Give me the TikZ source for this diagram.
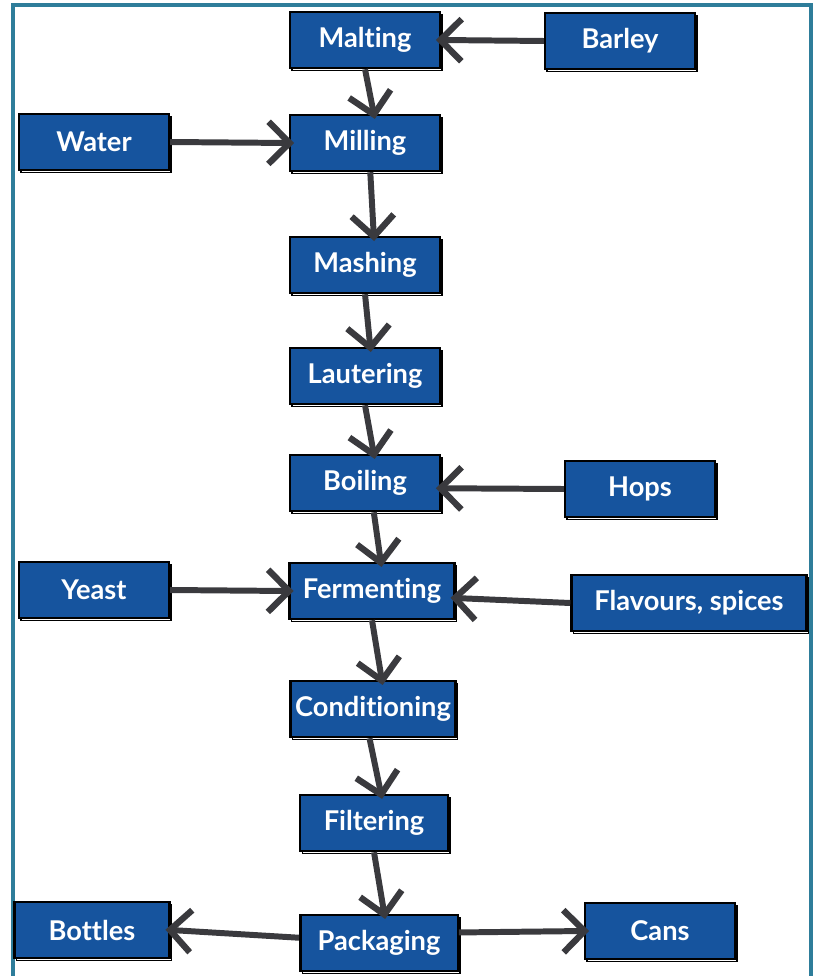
\documentclass[tikz,border=0pt]{standalone}
\usepackage{fontspec}
\setmainfont{Lato}[Ligatures=NoCommon]
\usetikzlibrary{arrows.meta}

\definecolor{stepblue}{RGB}{22,84,158}
\definecolor{framecol}{RGB}{46,125,154}
\definecolor{arrowgray}{RGB}{58,58,62}

\tikzset{
	stage/.style={draw=black, line width=1.4pt, fill=stepblue, text=white,
		font=\fontsize{15.5}{18}\selectfont\bfseries,
		minimum width=3cm, minimum height=1.12cm, inner sep=2pt,
		preaction={draw=black, line width=0.8pt, transform canvas={shift={(1.2pt,-1.4pt)}}}},
	flow/.style={draw=arrowgray, line width=3.4pt, shorten >=-3pt,
		-{Straight Barb[length=12pt, width=24pt, line width=3.6pt]}}
}

\begin{document}
\begin{tikzpicture}[x=0.02cm,y=-0.02cm]

	%Frame
	\useasboundingbox (0,0) rectangle (816,976);
	\draw[framecol, line width=1.8pt] (13,976) -- (13,5) -- (811,5) -- (811,976);

	%Main line
	\node[stage] (malting) at (365,40) {Malting};
	\node[stage] (milling) at (365,143) {Milling};
	\node[stage] (mashing) at (365,265) {Mashing};
	\node[stage] (lautering) at (365,376) {Lautering};
	\node[stage] (boiling) at (365,483) {Boiling};
	\node[stage, minimum width=3.3cm] (fermenting) at (372,591) {Fermenting};
	\node[stage, minimum width=3.3cm] (conditioning) at (373,709) {Conditioning};
	\node[stage, minimum width=2.95cm] (filtering) at (374,823) {Filtering};
	\node[stage, minimum width=3.15cm] (packaging) at (379,943) {Packaging};

	%Inputs
	\node[stage] (barley) at (620,41) {Barley};
	\node[stage] (water) at (94,142) {Water};
	\node[stage] (hops) at (640,489) {Hops};
	\node[stage] (yeast) at (94,590) {Yeast};
	\node[stage, minimum width=4.7cm] (flavours) at (689,603) {Flavours, spices};

	%Outputs
	\node[stage, minimum width=3.1cm] (bottles) at (92,930) {Bottles};
	\node[stage] (cans) at (660,931) {Cans};

	%Arrows
	\draw[flow] (barley.west) -- (malting.east);
	\draw[flow] (malting.south) -- ([xshift=5pt]milling.north);
	\draw[flow] (water.east) -- (milling.west);
	\draw[flow] ([xshift=3pt]milling.south) -- ([xshift=5pt]mashing.north);
	\draw[flow] (mashing.south) -- ([xshift=3pt]lautering.north);
	\draw[flow] (lautering.south) -- ([xshift=5pt]boiling.north);
	\draw[flow] (hops.west) -- ([yshift=-3pt]boiling.east);
	\draw[flow] ([xshift=5pt]boiling.south) -- ([xshift=5pt]fermenting.north);
	\draw[flow] (yeast.east) -- (fermenting.west);
	\draw[flow] (flavours.west) -- ([yshift=-4pt]fermenting.east);
	\draw[flow] (fermenting.south) -- ([xshift=5pt]conditioning.north);
	\draw[flow] ([xshift=-2pt]conditioning.south) -- ([xshift=4pt]filtering.north);
	\draw[flow] (filtering.south) -- ([xshift=3pt]packaging.north);
	\draw[flow] ([yshift=3pt]packaging.west) -- (bottles.east);
	\draw[flow] ([yshift=6pt]packaging.east) -- (cans.west);

\end{tikzpicture}
\end{document}
